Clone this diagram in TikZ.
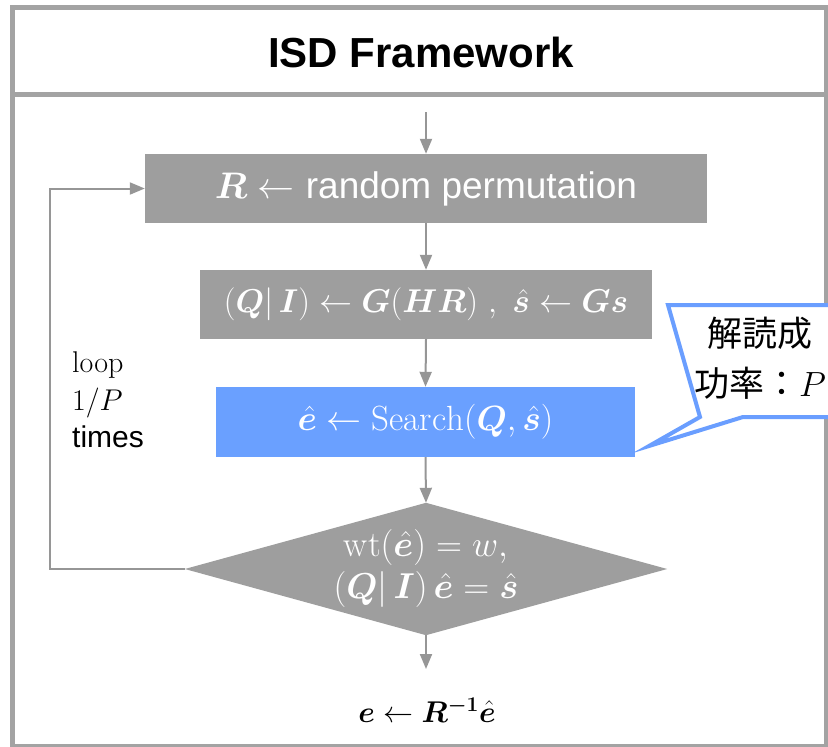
\RequirePackage{fix-cm}
\documentclass[tikz,border=0pt]{standalone}
\usepackage{amsmath}
\usepackage{bm}
\usepackage{fontspec}
\newfontfamily\arial{Liberation Sans}
\newfontfamily\cjk{Noto Sans CJK JP}
\usetikzlibrary{arrows.meta}
\definecolor{framegray}{RGB}{163,163,163}
\definecolor{boxgray}{RGB}{158,158,158}
\definecolor{arrowgray}{RGB}{150,150,150}
\definecolor{boxblue}{RGB}{106,160,255}
\definecolor{callblue}{RGB}{106,158,255}
\tikzset{
  gbox/.style={fill=boxgray, text=white, inner sep=0pt, align=center},
  bbox/.style={fill=boxblue, text=white, inner sep=0pt, align=center},
  arr/.style={draw=arrowgray, line width=2pt, -{Triangle[length=15pt,width=12pt]}},
}
\begin{document}
\begin{tikzpicture}[x=1pt,y=-1pt]
\useasboundingbox (0,0) rectangle (828,747);
% frame
\draw[framegray, line width=5pt] (12.5,7.5) rectangle (826,746);
\draw[framegray, line width=5pt] (12.5,94.5) -- (826,94.5);
\node[font=\arial\bfseries\fontsize{42}{48}\selectfont] (title) at (421,52) {ISD Framework};
% boxes
\node[gbox, minimum width=562pt, minimum height=69pt, font=\fontsize{37}{44}\selectfont] (R) at (426,188.5)
  {$\bm{R}\leftarrow$ {\arial random permutation}};
\node[gbox, minimum width=452pt, minimum height=69pt, font=\fontsize{33}{40}\selectfont] (G) at (426,304.5)
  {$(\bm{Q}|\,\bm{I})\leftarrow\bm{G}(\bm{HR})\ ,\ \hat{\bm{s}}\leftarrow\bm{Gs}$};
\node[bbox, minimum width=419pt, minimum height=70pt, font=\fontsize{35}{40}\selectfont] (S) at (425.5,422)
  {$\hat{\bm{e}}\leftarrow\mathrm{Search}(\bm{Q},\hat{\bm{s}})$};
% diamond
\node[minimum width=482pt, minimum height=132pt, inner sep=0pt] (dia) at (426,569) {};
\fill[boxgray] (dia.north) -- (dia.east) -- (dia.south) -- (dia.west) -- cycle;
\node[text=white, align=center, font=\fontsize{36}{42}\selectfont] (diatext) at (dia.center)
  {$\mathrm{wt}(\hat{\bm{e}})=w,$\\$(\bm{Q}|\,\bm{I})\,\hat{\bm{e}}=\hat{\bm{s}}$};
% result
\node[font=\fontsize{30}{36}\selectfont] (res) at (427,710) {$\bm{e}\leftarrow\bm{R^{-1}}\hat{\bm{e}}$};
\coordinate (start) at (426,112);
\coordinate (resin) at (426,669);
% loop text
\node[anchor=west, align=left, font=\fontsize{30}{37.5}\selectfont, inner sep=0pt] (looptext) at (72,400)
  {loop\\$1/P$\\{\arial times}};
% arrows
\draw[arr] (start) -- (R.north);
\draw[arr] (R.south) -- (G.north);
\draw[arr] (G.south) -- (S.north);
\draw[arr] (S.south) -- (dia.north);
\draw[arr] (dia.south) -- (resin);
\draw[arr] (dia.west) -- ++(-135,0) |- (R.west);
% callout
\draw[callblue, line width=4pt, fill=white, line join=miter]
  (668,305) -- (870,305) -- (870,417) -- (743,417) -- (649,446) -- (700,417) -- cycle;
\node[align=center, font=\cjk\fontsize{35}{50}\selectfont] (call) at (760,358) {解読成\\功率：$P$};
\end{tikzpicture}
\end{document}
